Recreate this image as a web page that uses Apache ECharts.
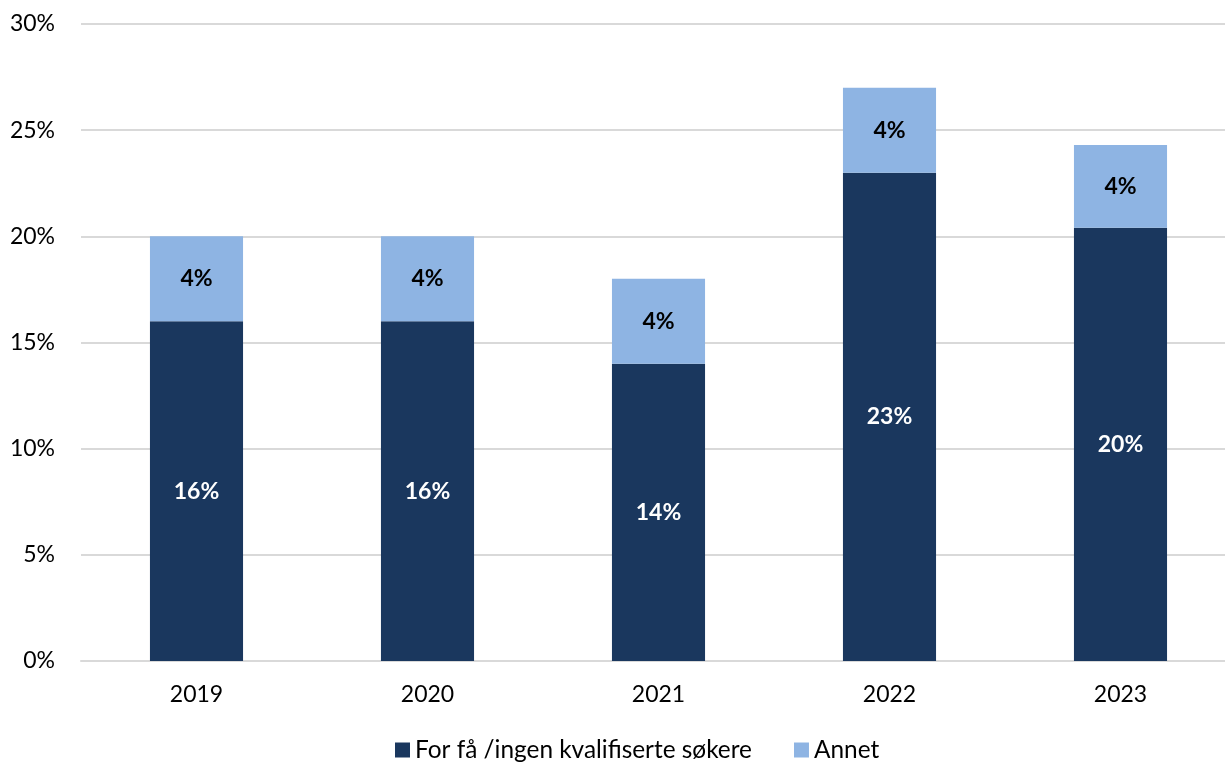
<!DOCTYPE html>
<html><head><meta charset="utf-8">
<script src="https://cdn.jsdelivr.net/npm/echarts@6/dist/echarts.min.js"></script>
<style>html,body{margin:0;padding:0;background:#fff;overflow:hidden;width:1225px;height:764px}#c{width:1240px;height:764px}</style>
</head><body><div id="c"></div>
<script>
var categories = ['2019','2020','2021','2022','2023'];
var forFaa = [16, 16, 14, 23, 20.4];
var annet = [4, 4, 4, 4, 3.9];
var seriesNames = ['For få /ingen kvalifiserte søkere', 'Annet'];
var FONT = 'Lato, "Open Sans", sans-serif';
var chart = echarts.init(document.getElementById('c'));
function lbl(color){
  return {show:true, position:'inside', color:color, fontWeight:'bold', fontSize:23, fontFamily:FONT,
    formatter:function(p){return Math.round(p.value)+'%';}};
}
chart.setOption({
  animation:false,
  textStyle:{fontFamily:FONT},
  grid:{left:81, width:1155, top:24, bottom:103},
  legend:{bottom:-3, left:390, itemWidth:15, itemHeight:15, itemGap:42, icon:'rect',
    textStyle:{fontSize:24.4, color:'#000', fontFamily:FONT}, data:seriesNames},
  xAxis:{type:'category', data:categories,
    axisLine:{lineStyle:{color:'#d9d9d9', width:2}}, axisTick:{show:false},
    axisLabel:{fontSize:23, color:'#000', margin:22, fontFamily:FONT}},
  yAxis:{type:'value', min:0, max:30, interval:5,
    axisLine:{show:false}, axisTick:{show:false},
    splitLine:{lineStyle:{color:'#d9d9d9', width:2}},
    axisLabel:{fontSize:23, color:'#000', margin:26, fontFamily:FONT, formatter:'{value}%'}},
  series:[
    {name:seriesNames[0], type:'bar', stack:'a', data:forFaa, barWidth:'40.3%',
      itemStyle:{color:'#1A375E'}, label:lbl('#fff')},
    {name:seriesNames[1], type:'bar', stack:'a', data:annet, barWidth:'40.3%',
      itemStyle:{color:'#8EB4E3'}, label:lbl('#000')}
  ]
});
</script></body></html>
